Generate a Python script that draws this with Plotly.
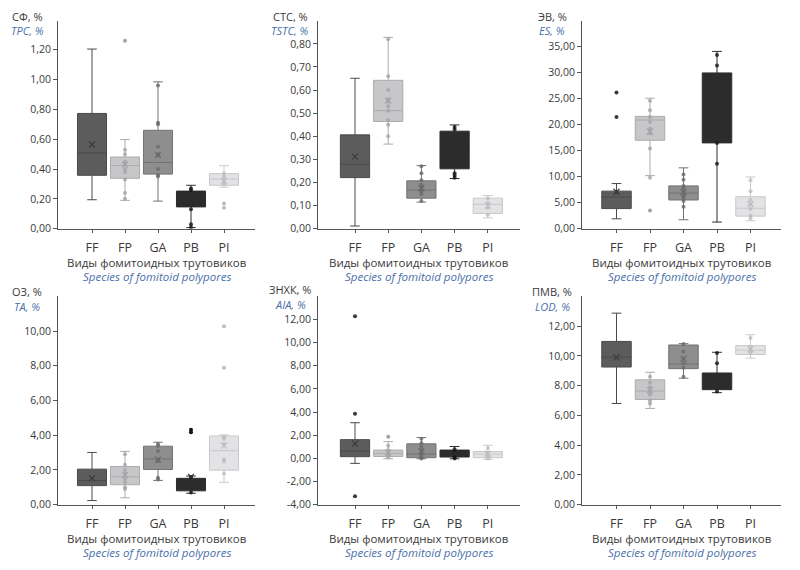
import plotly.graph_objects as go

CATEGORIES = ["FF", "FP", "GA", "PB", "PI"]

# --- СФ / TPC ---
SF_LOW = [0.194, 0.19, 0.185, 0.007, 0.278]
SF_Q1 = [0.358, 0.338, 0.366, 0.146, 0.291]
SF_MED = [0.508, 0.424, 0.444, 0.22, 0.333]
SF_Q3 = [0.773, 0.481, 0.66, 0.252, 0.369]
SF_HIGH = [1.205, 0.598, 0.985, 0.291, 0.422]
SF_MEAN = [0.565, 0.43, 0.495, 0.18, 0.32]
SF_POINTS = [[], [0.53, 0.50, 0.45, 0.43, 0.40, 0.38, 0.33, 0.24, 0.20],
             [0.96, 0.71, 0.70, 0.55, 0.50, 0.49, 0.40, 0.36, 0.35],
             [0.27, 0.26, 0.13, 0.03, 0.01], [0.37, 0.35, 0.33, 0.30]]
SF_OUT = [[], [1.26], [], [], [0.168, 0.141]]
SF_TICKS = [0, 0.2, 0.4, 0.6, 0.8, 1.0, 1.2]

# --- СТС / TSTC ---
STC_LOW = [0.0115, 0.366, 0.115, 0.217, 0.047]
STC_Q1 = [0.221, 0.464, 0.132, 0.259, 0.066]
STC_MED = [0.278, 0.511, 0.167, 0.35, 0.105]
STC_Q3 = [0.406, 0.642, 0.207, 0.422, 0.132]
STC_HIGH = [0.651, 0.828, 0.273, 0.449, 0.143]
STC_MEAN = [0.312, 0.554, 0.175, 0.34, 0.10]
STC_POINTS = [[], [0.82, 0.66, 0.60, 0.56, 0.55, 0.53, 0.51, 0.47, 0.45, 0.40],
              [0.27, 0.24, 0.21, 0.19, 0.18, 0.17, 0.16, 0.15, 0.12],
              [0.44, 0.43, 0.24, 0.23, 0.22], [0.13, 0.11, 0.09, 0.06]]
STC_OUT = [[], [], [], [], []]
STC_TICKS = [0, 0.1, 0.2, 0.3, 0.4, 0.5, 0.6, 0.7, 0.8]

# --- ЭВ / ES ---
EV_LOW = [1.9, 10.2, 1.71, 1.27, 1.52]
EV_Q1 = [3.86, 17.0, 5.51, 16.5, 2.41]
EV_MED = [6.08, 20.9, 6.84, 22.0, 3.93]
EV_Q3 = [7.22, 21.6, 8.23, 29.96, 6.14]
EV_HIGH = [8.68, 25.1, 11.7, 34.1, 9.94]
EV_MEAN = [7.1, 18.7, 7.0, 21.0, 4.7]
EV_POINTS = [[7.0], [24.6, 22.8, 21.5, 20.5, 19.2, 18.3, 15.4, 9.8],
             [10.4, 9.4, 8.2, 7.8, 7.1, 6.6, 6.2, 5.8, 5.3, 4.2],
             [33.4, 31.4, 16.5, 12.5], [9.3, 7.2, 5.5, 4.7, 3.8, 2.5, 2.0]]
EV_OUT = [[26.2, 21.5], [3.5], [], [], []]
EV_TICKS = [0, 5, 10, 15, 20, 25, 30, 35]

# --- ОЗ / TA ---
OZ_LOW = [0.24, 0.40, 1.40, 0.66, 1.29]
OZ_Q1 = [1.10, 1.15, 2.03, 0.80, 1.99]
OZ_MED = [1.40, 1.61, 2.63, 1.30, 3.11]
OZ_Q3 = [2.05, 2.20, 3.37, 1.52, 3.96]
OZ_HIGH = [3.01, 3.07, 3.60, 1.65, 4.02]
OZ_MEAN = [1.52, 1.7, 2.6, 1.6, 3.4]
OZ_POINTS = [[], [2.9, 2.3, 2.0, 1.8, 1.5, 1.3, 1.0, 0.9],
             [3.5, 3.4, 3.1, 2.6, 2.5, 1.55, 1.45],
             [1.6, 0.7], [3.9, 3.8, 3.5, 2.6, 2.5, 1.8]]
OZ_OUT = [[], [], [], [4.32, 4.17], [10.28, 7.88]]
OZ_TICKS = [0, 2, 4, 6, 8, 10]

# --- ЗНХК / AIA ---
ZN_LOW = [-0.43, -0.03, -0.03, -0.03, -0.08]
ZN_Q1 = [0.15, 0.17, 0.06, 0.12, 0.06]
ZN_MED = [0.63, 0.43, 0.38, 0.40, 0.38]
ZN_Q3 = [1.62, 0.72, 1.26, 0.72, 0.60]
ZN_HIGH = [3.08, 1.45, 1.80, 1.03, 1.14]
ZN_MEAN = [1.28, 0.5, 0.6, 0.45, 0.4]
ZN_POINTS = [[], [1.1, 0.7, 0.5, 0.3, 0.1],
             [1.7, 1.3, 1.0, 0.7, 0.5, 0.3, 0.1, 0.0],
             [0.8, 0.5, 0.1, 0.0], [0.9, 0.5, 0.2, 0.0]]
ZN_OUT = [[12.28, 3.85, -3.27], [1.88], [], [], []]
ZN_TICKS = [-4, -2, 0, 2, 4, 6, 8, 10, 12]

# --- ПМВ / LOD ---
PM_LOW = [6.8, 6.47, 8.5, 7.53, 9.85]
PM_Q1 = [9.25, 7.07, 9.14, 7.73, 10.09]
PM_MED = [9.91, 7.64, 9.45, 8.3, 10.38]
PM_Q3 = [10.97, 8.39, 10.73, 8.85, 10.69]
PM_HIGH = [12.87, 8.9, 10.82, 10.24, 11.42]
PM_MEAN = [9.9, 7.7, 9.8, 8.4, 10.45]
PM_POINTS = [[], [8.6, 8.2, 7.9, 7.6, 7.4, 7.0, 6.8],
             [10.8, 10.3, 9.8, 9.5, 9.2, 8.6],
             [10.2, 9.5, 7.6], [11.2, 10.6, 10.4, 10.2]]
PM_OUT = [[], [], [], [], []]
PM_TICKS = [0, 2, 4, 6, 8, 10, 12]

TITLES_RU = ["СФ, %", "СТС, %", "ЭВ, %", "ОЗ, %", "ЗНХК, %", "ПМВ, %"]
TITLES_EN = ["TPC, %", "TSTC, %", "ES, %", "TA, %", "AIA, %", "LOD, %"]
XTITLE_RU = "Виды фомитоидных трутовиков"
XTITLE_EN = "Species of fomitoid polypores"

FILL = ["#5c5c5c", "#c7c7c9", "#8e8e8e", "#2c2c2c", "#e3e3e5"]
LINE = ["#4a4a4a", "#ababad", "#727272", "#2c2c2c", "#c9c9cb"]
DOT = ["#3a3a3a", "#a4a4a6", "#6a6a6a", "#151515", "#bdbdbf"]
MEANC = ["#3a3a3a", "#a4a4a6", "#6a6a6a", "#2c2c2c", "#bdbdbf"]

W, H = 800, 570
FONT = "Open Sans"
TXT = "#3a3a3a"
BLUE = "#4a6fa8"

PANELS = [
    (SF_LOW, SF_Q1, SF_MED, SF_Q3, SF_HIGH, SF_MEAN, SF_POINTS, SF_OUT, SF_TICKS, [0, 1.395]),
    (STC_LOW, STC_Q1, STC_MED, STC_Q3, STC_HIGH, STC_MEAN, STC_POINTS, STC_OUT, STC_TICKS, [0, 0.9]),
    (EV_LOW, EV_Q1, EV_MED, EV_Q3, EV_HIGH, EV_MEAN, EV_POINTS, EV_OUT, EV_TICKS, [0, 40]),
    (OZ_LOW, OZ_Q1, OZ_MED, OZ_Q3, OZ_HIGH, OZ_MEAN, OZ_POINTS, OZ_OUT, OZ_TICKS, [0, 12]),
    (ZN_LOW, ZN_Q1, ZN_MED, ZN_Q3, ZN_HIGH, ZN_MEAN, ZN_POINTS, ZN_OUT, ZN_TICKS, [-4, 14]),
    (PM_LOW, PM_Q1, PM_MED, PM_Q3, PM_HIGH, PM_MEAN, PM_POINTS, PM_OUT, PM_TICKS, [0, 14]),
]

# layout geometry in pixels
COLS = [(58, 255, 92, 33.0), (318, 520, 355, 33.2), (582, 781, 616.5, 33.5)]
ROWS = [(21, 231.5), (300, 511)]
TITLE_X = [27, 290, 552]
TITLE_SHIFT = [0, 0, 0, 0, -2, 0]
XT_RU_Y = [266, 545]
XT_EN_Y = [280, 559]

fig = go.Figure()
layout = dict(width=W, height=H, margin=dict(l=0, r=0, t=0, b=0),
              paper_bgcolor="white", plot_bgcolor="white", showlegend=False,
              font=dict(family=FONT, color=TXT), annotations=[])


def fmt(v):
    return f"{v:.2f}".replace(".", ",")


for k, (low, q1, med, q3, high, mean, pts, outs, ticks, yr) in enumerate(PANELS):
    r, c = divmod(k, 3)
    x0p, x1p, c0, step = COLS[c]
    ytop, ybot = ROWS[r]
    n = k + 1
    xa = "x" if n == 1 else f"x{n}"
    ya = "y" if n == 1 else f"y{n}"
    xr = [(x0p - c0) / step, (x1p - c0) / step]
    layout["xaxis" if n == 1 else f"xaxis{n}"] = dict(
        domain=[x0p / W, x1p / W], range=xr, anchor=ya,
        tickmode="array", tickvals=list(range(len(CATEGORIES))), ticktext=CATEGORIES,
        showline=True, linecolor="#555555", linewidth=1, ticks="outside", ticklen=3,
        tickcolor="#555555", showgrid=False, zeroline=False, ticklabelstandoff=4,
        tickfont=dict(size=12.5, color=TXT, family=FONT), fixedrange=True)
    layout["yaxis" if n == 1 else f"yaxis{n}"] = dict(
        domain=[1 - ybot / H, 1 - ytop / H], range=yr, anchor=xa,
        tickmode="array", tickvals=ticks, ticktext=[fmt(t) for t in ticks],
        showline=True, linecolor="#555555", linewidth=1, ticks="outside", ticklen=4,
        tickcolor="#555555", showgrid=False, zeroline=False,
        tickfont=dict(size=10.5, color=TXT, family=FONT), fixedrange=True)
    for i, cat in enumerate(CATEGORIES):
        fig.add_trace(go.Box(
            x=[i], q1=[q1[i]], median=[med[i]], q3=[q3[i]],
            lowerfence=[low[i]], upperfence=[high[i]], name=cat,
            width=0.88, whiskerwidth=0.33, fillcolor=FILL[i],
            line=dict(color=LINE[i], width=1), boxpoints=False,
            xaxis=xa, yaxis=ya, hoverinfo="skip"))
        if pts[i]:
            fig.add_trace(go.Scatter(
                x=[i] * len(pts[i]), y=pts[i], mode="markers",
                marker=dict(size=4, color=DOT[i], opacity=0.8),
                xaxis=xa, yaxis=ya, hoverinfo="skip"))
        if outs[i]:
            fig.add_trace(go.Scatter(
                x=[i] * len(outs[i]), y=outs[i], mode="markers",
                marker=dict(size=4, color=DOT[i]),
                xaxis=xa, yaxis=ya, hoverinfo="skip"))
        fig.add_trace(go.Scatter(
            x=[i], y=[mean[i]], mode="markers",
            marker=dict(symbol="x-thin", size=6, line=dict(width=1.2, color=MEANC[i])),
            xaxis=xa, yaxis=ya, hoverinfo="skip"))
    # y-axis titles
    ts = TITLE_SHIFT[k]
    layout["annotations"].append(dict(
        x=TITLE_X[c] / W, y=1 - (ytop - 4.5 + ts) / H, xref="paper", yref="paper",
        text=TITLES_RU[k], showarrow=False, xanchor="center", yanchor="middle",
        borderpad=0, font=dict(size=11, color=TXT, family=FONT)))
    layout["annotations"].append(dict(
        x=TITLE_X[c] / W, y=1 - (ytop + 10 + ts) / H, xref="paper", yref="paper",
        text="<i>" + TITLES_EN[k] + "</i>", showarrow=False, xanchor="center",
        yanchor="middle", borderpad=0, font=dict(size=11, color=BLUE, family=FONT)))
    # x-axis titles
    xc = (x0p + x1p) / 2 / W
    layout["annotations"].append(dict(
        x=xc, y=1 - XT_RU_Y[r] / H, xref="paper", yref="paper",
        text=XTITLE_RU, showarrow=False, xanchor="center", yanchor="middle",
        borderpad=0, font=dict(size=11.5, color=TXT, family=FONT)))
    layout["annotations"].append(dict(
        x=xc, y=1 - XT_EN_Y[r] / H, xref="paper", yref="paper",
        text="<i>" + XTITLE_EN + "</i>", showarrow=False, xanchor="center",
        yanchor="middle", borderpad=0, font=dict(size=11.5, color=BLUE, family=FONT)))

fig.update_layout(**layout)
fig.write_html("out.html")
